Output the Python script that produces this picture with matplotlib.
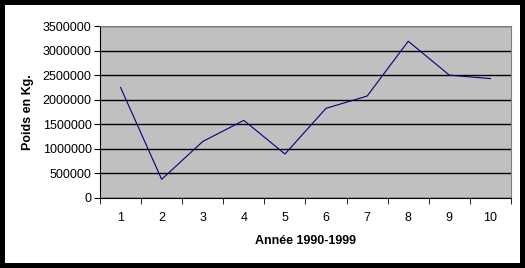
import matplotlib.pyplot as plt
from matplotlib.patches import Rectangle

# data
years = list(range(1, 11))
poids = [2250000, 380000, 1150000, 1580000, 895000, 1825000, 2075000, 3190000, 2500000, 2430000]
yticks = list(range(0, 3500001, 500000))

plt.rcParams['font.family'] = ['Liberation Sans', 'DejaVu Sans']

fig = plt.figure(figsize=(5.25, 2.68), dpi=100, facecolor='black')
# white chart area inside the black frame (drawn under the axes)
fig.patches.append(Rectangle((5 / 525, 5 / 268), 515 / 525, 258 / 268,
                             transform=fig.transFigure, facecolor='white',
                             edgecolor='none', zorder=-1))

ax = fig.add_axes([100 / 525, 70 / 268, 411 / 525, 172 / 268])
ax.set_facecolor('#C0C0C0')
ax.plot(years, poids, color='#000080', lw=0.8, zorder=3)

ax.set_xlim(0.5, 10.5)
ax.set_ylim(0, 3500000)
ax.set_yticks(yticks)
ax.set_yticklabels([str(v) for v in yticks], fontsize=9)
ax.yaxis.grid(True, color='black', lw=1)
ax.set_axisbelow(True)

ax.set_xticks(years)
ax.set_xticklabels([str(y) for y in years], fontsize=9)
ax.tick_params(axis='x', which='major', length=0, pad=10)
ax.set_xticks([x + 0.5 for x in range(0, 11)], minor=True)
ax.tick_params(axis='x', which='minor', length=4, direction='out', color='black')
ax.tick_params(axis='y', length=4, direction='out', pad=2)

for s in ['top', 'right']:
    ax.spines[s].set_color('#808080')
for s in ['left', 'bottom']:
    ax.spines[s].set_color('black')

ax.set_xlabel('Année 1990-1999', fontsize=9, fontweight='bold', labelpad=8)
ax.set_ylabel('Poids en Kg.', fontsize=9, fontweight='bold', labelpad=6)

fig.savefig('out.png', dpi=100, facecolor='black')
